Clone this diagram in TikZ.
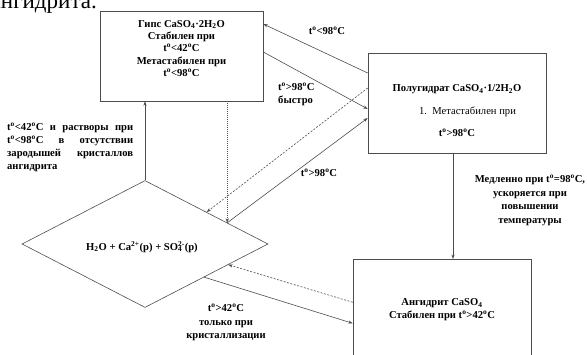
\documentclass[tikz,border=0pt]{standalone}
\usepackage{fontspec}
\setmainfont{Liberation Serif}
\usetikzlibrary{shapes.geometric,arrows.meta,calc}

\newcommand{\dg}{\textsuperscript{o}}

\begin{document}
\begin{tikzpicture}[x=1pt,y=-1pt,
  line/.style={draw=black!70, line width=0.6pt},
  arr/.style={line, -{Stealth[length=4.5pt,width=3.2pt]}},
  dashedarr/.style={arr, dash pattern=on 2pt off 1.5pt},
  dottedarr/.style={arr, dash pattern=on 1pt off 1pt},
  box/.style={draw=black!70, line width=0.6pt, rectangle, inner sep=0pt},
  lbl/.style={font=\bfseries\fontsize{10.6}{12.3}\selectfont, align=center, inner sep=0pt},
  plain/.style={font=\fontsize{10.6}{12.3}\selectfont, align=center, inner sep=0pt},
]
\useasboundingbox (0,0) rectangle (587,355);

% tail of the preceding paragraph, cut by the page edge
\node[font=\fontsize{23}{28}\selectfont, anchor=base east, inner sep=0pt] (head) at (97,9) {ангидрита.};

% gypsum
\node[box, minimum width=163pt, minimum height=90pt] (gyp) at (181.5,56) {};
\node[lbl, anchor=north] (gyptext) at (181.5,20)
  {Гипс CaSO\textsubscript{4}·2H\textsubscript{2}O\\Стабилен при\\t\dg<42\dg C\\Метастабилен при\\t\dg<98\dg C};

% hemihydrate
\node[box, minimum width=178pt, minimum height=100pt] (poly) at (457,103) {};
\node[lbl] (polyA) at (457,89) {Полугидрат CaSO\textsubscript{4}·1/2H\textsubscript{2}O};
\node[plain] (polyB) at (467.5,112) {1.\enspace Метастабилен при};
\node[lbl] (polyC) at (457,133) {t\dg>98\dg C};

% anhydrite
\node[box, minimum width=178pt, minimum height=120pt, anchor=north] (anh) at (442,259) {};
\node[lbl] (anhtext) at (442,309.5) {Ангидрит CaSO\textsubscript{4}\\Стабилен при t\dg>42\dg C};

% solution
\node[draw=black!70, line width=0.6pt, diamond, minimum width=246pt, minimum height=127pt,
      shape aspect=1.94, inner sep=0pt] (dia) at (145,244) {};
\node[lbl] (diatext) at (142,247)
  {H\textsubscript{2}O + Ca\textsuperscript{2+}(р) + SO\rlap{\textsubscript{4}}\textsuperscript{2-}(р)};

% points on the diamond edges
\coordinate (dA) at ($(dia.north)!0.5!(dia.east)$);
\coordinate (dB) at ($(dia.north)!0.667!(dia.east)$);
\coordinate (dC) at ($(dia.east)!0.325!(dia.south)$);
\coordinate (dD) at ($(dia.east)!0.52!(dia.south)$);

% connectors
\draw[arr] ([yshift=30pt]poly.west) -- ([yshift=32pt]gyp.east);
\draw[arr] ([yshift=4pt]gyp.east) -- ([yshift=-6pt]poly.west);
\draw[dashedarr] ([yshift=15pt]poly.west) -- (dA);
\draw[arr] (dB) -- ([yshift=-15pt]poly.west);
\draw[dottedarr] (gyp.south -| dB) -- (dB);
\draw[arr] (dia.north) -- (dia.north |- gyp.south);
\draw[arr] ([xshift=-4pt]poly.south) -- ([xshift=-4pt]poly.south |- anh.north);
\draw[dashedarr] ([yshift=17pt]anh.west) -- (dC);
\draw[arr] (dD) -- ([yshift=-4pt]anh.west);

% connector labels
\node[lbl] (l1) at (327,31) {t\dg<98\dg C};
\node[lbl, align=left, anchor=west] (l2) at (278,94.5) {t\dg>98\dg C\\быстро};
\node[lbl] (l3) at (319,173) {t\dg>98\dg C};
\node[lbl, font=\bfseries\fontsize{10.6}{13.5}\selectfont] (l4) at (226,322.5)
  {t\dg>42\dg C\\только при\\кристаллизации};
\node[lbl, font=\bfseries\fontsize{10.6}{13.5}\selectfont] (l5) at (530,200.5)
  {Медленно при t\dg=98\dg C,\\ускоряется при\\повышении\\температуры};
\node[lbl, align=justify, text width=126pt, anchor=west,
      font=\bfseries\fontsize{10.6}{12.8}\selectfont] (l6) at (7,147.5)
  {t\dg<42\dg C и растворы при t\dg<98\dg C в отсутствии зародышей кристаллов ангидрита};
\end{tikzpicture}
\end{document}
